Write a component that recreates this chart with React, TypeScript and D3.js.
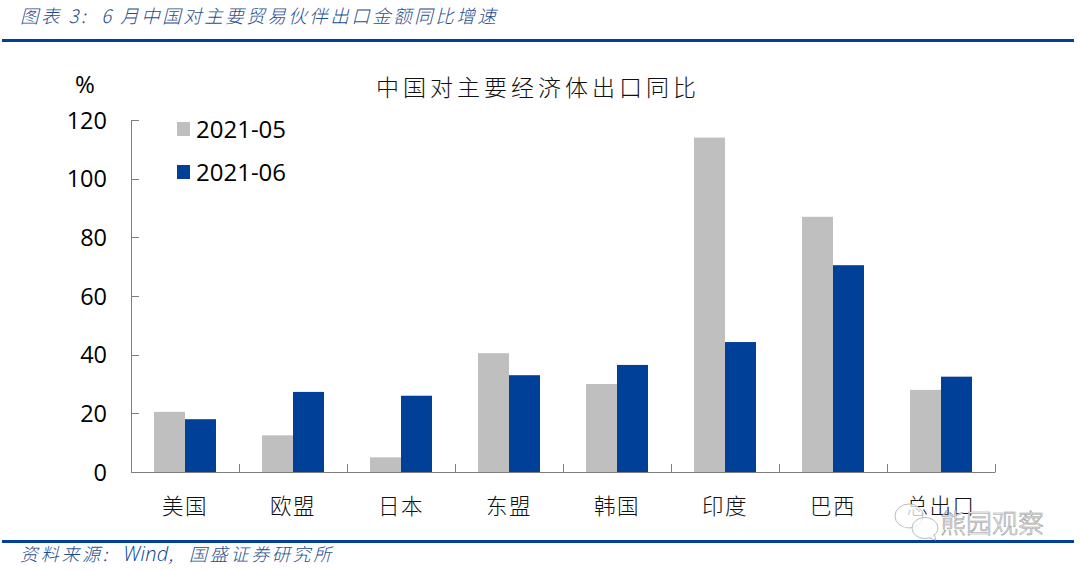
import React from "react";
import * as d3 from "d3";

const categories = ["美国", "欧盟", "日本", "东盟", "韩国", "印度", "巴西", "总出口"];
const may = [20.5, 12.5, 5, 40.5, 30, 114, 87, 28];
const june = [18, 27.3, 26, 33, 36.5, 44.3, 70.5, 32.5];
const yTicks = [0, 20, 40, 60, 80, 100, 120];
const seriesNames = ["2021-05", "2021-06"];
const seriesColors = ["#BFBFBF", "#004098"];
const headerText = "图表 3:  6 月中国对主要贸易伙伴出口金额同比增速";
const sourceLead = "资料来源:  ";
const sourceWind = "Wind";
const sourceTail = ",  国盛证券研究所";
const chartTitle = "中国对主要经济体出口同比";
const watermark = "熊园观察";

const cjk = "'Noto Sans CJK SC', sans-serif";
const latin = "'Open Sans', 'Noto Sans', sans-serif";
const navy = "#004098";
const blueText = "#1F4E8C";
const axisColor = "#7F7F7F";

export default function App() {
  const x = d3.scaleBand<string>().domain(categories).range([131, 995]);
  const inner = d3.scaleBand<string>().domain(seriesNames).range([0, x.bandwidth()]).paddingInner(0).paddingOuter(0.742);
  const y = d3.scaleLinear().domain([0, 120]).range([472, 120]);
  const edges = [...categories.map((c) => x(c)!), 995];

  return (
    <svg width={1080} height={570} style={{ position: "absolute", left: 0, top: 0, background: "#fff" }}>
      <text x={20} y={23} fontFamily={cjk} fontWeight={300} fontSize={18.5} fill={blueText} fontStyle="italic" letterSpacing={2.5} xmlSpace="preserve">{headerText}</text>
      <rect x={2} y={39} width={1072} height={3} fill={navy} />
      <rect x={2} y={540} width={1072} height={3} fill={navy} />
      <text x={20} y={561} fontFamily={cjk} fontWeight={300} fontSize={18} fill={blueText} fontStyle="italic" letterSpacing={2.7} xmlSpace="preserve">
        {sourceLead}
        <tspan fontFamily={latin} fontSize={20} letterSpacing={0.3} fill={navy}>{sourceWind}</tspan>
        {sourceTail}
      </text>

      <text x={538} y={96} textAnchor="middle" fontFamily={cjk} fontWeight={300} fontSize={23} letterSpacing={4} fill="#111">{chartTitle}</text>
      <text x={85} y={93} textAnchor="middle" fontFamily={latin} fontSize={24} fill="#000">%</text>

      {categories.map((c, i) => (
        <g key={c}>
          <rect x={x(c)! + inner(seriesNames[0])!} y={y(may[i])} width={inner.bandwidth()} height={y(0) - y(may[i])} fill={seriesColors[0]} />
          <rect x={x(c)! + inner(seriesNames[1])!} y={y(june[i])} width={inner.bandwidth()} height={y(0) - y(june[i])} fill={seriesColors[1]} />
          <text x={x(c)! + x.bandwidth() / 2} y={514} textAnchor="middle" fontFamily={cjk} fontWeight={300} fontSize={21.5} letterSpacing={1.5} fill="#111">{c}</text>
        </g>
      ))}

      <line x1={131.5} x2={131.5} y1={y(120)} y2={y(0)} stroke={axisColor} />
      <line x1={131} x2={995.5} y1={472.5} y2={472.5} stroke={axisColor} />
      {yTicks.map((t) => (
        <g key={t}>
          <line x1={131} x2={139} y1={Math.round(y(t)) + 0.5} y2={Math.round(y(t)) + 0.5} stroke={axisColor} />
          <text x={107} y={y(t) + 8.5} textAnchor="end" fontFamily={latin} fontSize={23.5} fill="#000">{t}</text>
        </g>
      ))}
      {edges.map((e) => (
        <line key={e} x1={Math.round(e) + 0.5} x2={Math.round(e) + 0.5} y1={464} y2={472} stroke={axisColor} />
      ))}

      {seriesNames.map((s, i) => (
        <g key={s}>
          <rect x={177} y={122 + i * 43} width={13} height={14} fill={seriesColors[i]} />
          <text x={196} y={138 + i * 43} fontFamily={latin} fontSize={24} fill="#000">{s}</text>
        </g>
      ))}

      <g fill="#fff" fillOpacity={0.75} stroke="#BDBDBD" strokeWidth={1}>
        <ellipse cx={909} cy={516} rx={14} ry={12} />
        <path d="M900 526 L897 533 L907 528 Z" stroke="none" fill="#fff" />
        <ellipse cx={925} cy={528} rx={13} ry={10.5} />
        <path d="M929 538 L936 540 L934 534" />
      </g>
      <text x={940} y={533} fontFamily={cjk} fontWeight={300} fontSize={26} fill="#fff" stroke="#9A9A9A" strokeWidth={0.6}>{watermark}</text>
    </svg>
  );
}
